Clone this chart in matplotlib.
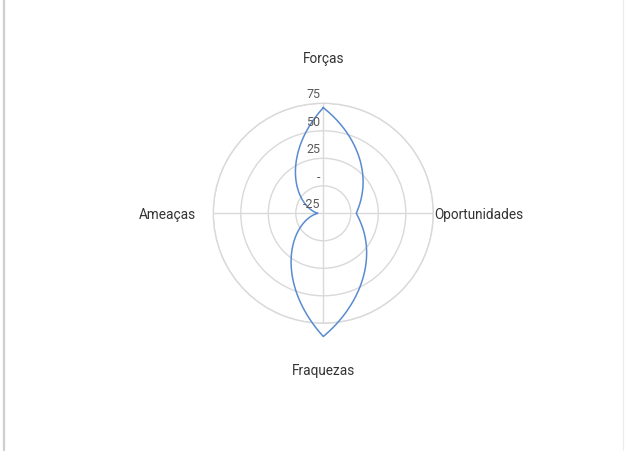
import numpy as np
import matplotlib
matplotlib.use('Agg')
import matplotlib.pyplot as plt
from matplotlib.lines import Line2D
from matplotlib.transforms import offset_copy

# ---- data ----
categories = ['Forças', 'Oportunidades', 'Fraquezas', 'Ameaças']
values = [71, 5, 87, -20]
r_ticks = [-25, 0, 25, 50, 75]
r_tick_labels = ['-25', '-', '25', '50', '75']
r_min, r_max = -25, 75

plt.rcParams['font.family'] = ['Roboto', 'DejaVu Sans']

W, H = 625, 451
fig = plt.figure(figsize=(W / 100, H / 100), dpi=100)
fig.patch.set_facecolor('white')

cx, cy, R = 323.3, 213.3, 110.0
ax = fig.add_axes([(cx - R) / W, (H - cy - R) / H, 2 * R / W, 2 * R / H],
                  projection='polar')
ax.set_theta_zero_location('N')
ax.set_theta_direction(-1)
ax.set_ylim(r_min, r_max)

n = len(categories)
angles = np.arange(n) * 2 * np.pi / n

# grid
ax.set_xticks(angles)
ax.set_xticklabels([])
ax.set_yticks(r_ticks)
ax.set_yticklabels([])
ax.grid(True, color='#d9d9d9', lw=1.0)
ax.spines['polar'].set_color('#d9d9d9')
ax.spines['polar'].set_linewidth(1.0)
ax.tick_params(length=0)


# smoothed closed curve: each segment eases out of the smaller radius
def ease(s):
    return 0.3 * s + 0.6 * s ** 2 + 0.1 * s ** 3


def smooth_radar(vals, angs, rmin, steps=100):
    rho = np.asarray(vals, float) - rmin
    m = len(rho)
    th_all, r_all = [], []
    for i in range(m):
        j = (i + 1) % m
        a0 = angs[i]
        a1 = angs[i] + 2 * np.pi / m
        u = np.linspace(0, 1, steps)
        if rho[i] <= rho[j]:
            rr = rho[i] + (rho[j] - rho[i]) * ease(u)
        else:
            rr = rho[j] + (rho[i] - rho[j]) * ease(1 - u)
        th = a0 + (a1 - a0) * u
        if i > 0:
            th, rr = th[1:], rr[1:]
        th_all.append(th)
        r_all.append(rr)
    return np.concatenate(th_all), np.concatenate(r_all) + rmin


th, rr = smooth_radar(values, angles, r_min)
ax.plot(th, rr, color='#5a8bd0', lw=1.1, clip_on=False, zorder=5)

# radial tick labels
tr = offset_copy(ax.transData, fig=fig, x=-3, y=2, units='dots')
for v, lab in zip(r_ticks, r_tick_labels):
    ax.text(0, v, lab, transform=tr, ha='right', va='bottom',
            fontsize=9, color='#595959', zorder=6)

# category labels
r_lab = r_min + (r_max - r_min) * 156 / R
tc = offset_copy(ax.transData, fig=fig, x=0, y=-2, units='dots')
for a, c in zip(angles, categories):
    ax.text(a, r_lab, c, transform=tc, ha='center', va='center',
            fontsize=9.8, color='#333333')

# screenshot frame lines
fig.add_artist(Line2D([4 / W, 4 / W], [0, 1], transform=fig.transFigure,
                      color='#cfcfcf', lw=1.6))
fig.add_artist(Line2D([622.5 / W, 622.5 / W], [0, 1], transform=fig.transFigure,
                      color='#ececec', lw=0.8))

fig.savefig('out.png', dpi=100, facecolor='white')
